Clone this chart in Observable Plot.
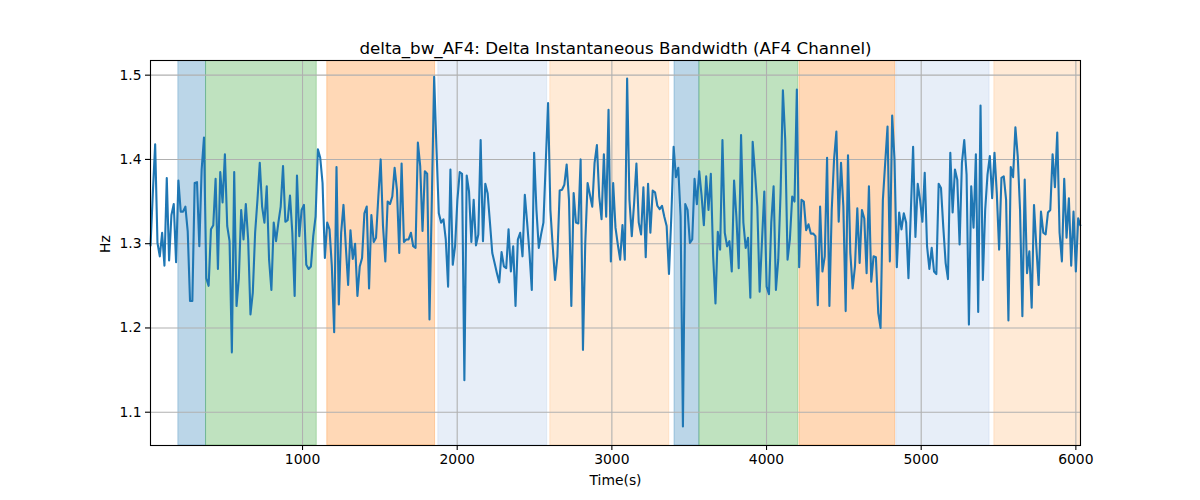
<!DOCTYPE html>
<html>
<head>
<meta charset="utf-8">
<script src="https://cdn.jsdelivr.net/npm/d3@7"></script>
<script src="https://cdn.jsdelivr.net/npm/@observablehq/plot@0.6"></script>
<style>
  html, body { margin: 0; padding: 0; background: white; }
  #chart { width: 1200px; height: 500px; }
</style>
</head>
<body>
<div id="chart"></div>
<script>
const chartTitle = "delta_bw_AF4: Delta Instantaneous Bandwidth (AF4 Channel)";
const xLabel = "Time(s)";
const yLabel = "Hz";

const xTicks = [1000, 2000, 3000, 4000, 5000, 6000];
const yTicks = [1.1, 1.2, 1.3, 1.4, 1.5];

// sampling of the series (seconds)
const timeStart = 17;
const timeEnd = 6030;

const bandwidth = [
  1.297, 1.360, 1.418, 1.301, 1.285, 1.313, 1.274, 1.378, 1.280, 1.334, 1.347,
  1.278, 1.375, 1.338, 1.338, 1.344, 1.315, 1.232, 1.232, 1.372, 1.373,
  1.297, 1.388, 1.426, 1.259, 1.250, 1.317, 1.322, 1.377, 1.270, 1.385,
  1.349, 1.406, 1.321, 1.303, 1.171, 1.385, 1.226, 1.259, 1.340, 1.305,
  1.347, 1.305, 1.216, 1.242, 1.313, 1.352, 1.396, 1.344, 1.325,
  1.368, 1.281, 1.245, 1.325, 1.303, 1.325, 1.344, 1.392, 1.326, 1.328,
  1.357, 1.313, 1.238, 1.381, 1.309, 1.340, 1.346, 1.275, 1.270, 1.273,
  1.309, 1.332, 1.412, 1.402, 1.372, 1.283, 1.325, 1.317, 1.273, 1.195,
  1.391, 1.228, 1.313, 1.346, 1.297, 1.251, 1.316, 1.282, 1.300, 1.238,
  1.273, 1.283, 1.336, 1.344, 1.247, 1.334, 1.302, 1.307, 1.356, 1.400,
  1.321, 1.279, 1.350, 1.347, 1.356, 1.390, 1.364, 1.289, 1.395, 1.302,
  1.305, 1.305, 1.313, 1.297, 1.295, 1.420, 1.392, 1.315, 1.386, 1.383,
  1.210, 1.352, 1.498, 1.413, 1.336, 1.325, 1.329, 1.305, 1.249, 1.388,
  1.275, 1.297, 1.352, 1.385, 1.383, 1.138, 1.381, 1.362, 1.302, 1.352,
  1.298, 1.311, 1.423, 1.303, 1.371, 1.360, 1.325, 1.289, 1.277, 1.265,
  1.254, 1.290, 1.273, 1.271, 1.317, 1.267, 1.297, 1.226, 1.305, 1.313,
  1.285, 1.358, 1.325, 1.289, 1.245, 1.408, 1.340, 1.295, 1.311, 1.325,
  1.396, 1.467, 1.340, 1.297, 1.257, 1.285, 1.363, 1.364, 1.370, 1.394,
  1.352, 1.226, 1.360, 1.325, 1.324, 1.400, 1.174, 1.301, 1.372, 1.358,
  1.344, 1.396, 1.417, 1.356, 1.329, 1.406, 1.332, 1.459, 1.279, 1.372,
  1.319, 1.299, 1.281, 1.322, 1.281, 1.496, 1.352, 1.309, 1.348, 1.395,
  1.325, 1.311, 1.367, 1.284, 1.371, 1.313, 1.363, 1.361, 1.345, 1.341,
  1.345, 1.332, 1.321, 1.264, 1.332, 1.415, 1.379, 1.390, 1.332, 1.083,
  1.347, 1.340, 1.301, 1.305, 1.377, 1.347, 1.386, 1.358, 1.322, 1.380,
  1.340, 1.383, 1.285, 1.229, 1.314, 1.293, 1.423, 1.313, 1.297, 1.303,
  1.267, 1.375, 1.332, 1.271, 1.429, 1.325, 1.295, 1.307, 1.236, 1.421,
  1.384, 1.344, 1.243, 1.303, 1.362, 1.249, 1.240, 1.325, 1.368, 1.245,
  1.281, 1.360, 1.482, 1.423, 1.281, 1.305, 1.356, 1.350, 1.483, 1.272,
  1.352, 1.350, 1.316, 1.323, 1.312, 1.312, 1.309, 1.227, 1.344, 1.267,
  1.285, 1.402, 1.226, 1.340, 1.400, 1.433, 1.326, 1.396, 1.344, 1.220,
  1.405, 1.289, 1.247, 1.273, 1.342, 1.277, 1.340, 1.330, 1.265, 1.368,
  1.255, 1.285, 1.284, 1.218, 1.200, 1.352, 1.396, 1.439, 1.279, 1.452,
  1.400, 1.272, 1.337, 1.317, 1.336, 1.325, 1.259, 1.336, 1.415, 1.308,
  1.371, 1.352, 1.326, 1.384, 1.297, 1.270, 1.295, 1.267, 1.264, 1.371,
  1.366, 1.319, 1.277, 1.258, 1.408, 1.337, 1.388, 1.376, 1.299, 1.396,
  1.423, 1.382, 1.204, 1.368, 1.319, 1.406, 1.219, 1.464, 1.257, 1.340,
  1.382, 1.404, 1.354, 1.408, 1.360, 1.293, 1.378, 1.380, 1.352, 1.209,
  1.391, 1.379, 1.438, 1.404, 1.340, 1.214, 1.376, 1.265, 1.291, 1.224,
  1.346, 1.297, 1.251, 1.338, 1.313, 1.311, 1.337, 1.340, 1.406, 1.367,
  1.432, 1.313, 1.279, 1.377, 1.307, 1.354, 1.274, 1.338, 1.267, 1.330,
  1.321
];

// shaded phases
const spanStarts = [197, 376, 1160, 1878, 2602, 3405, 3566, 4213, 4839, 5473];
const spanEnds   = [376, 1092, 1857, 2582, 3371, 3566, 4205, 4832, 5442, 6030];
const spanColors = ["#1f77b4", "#2ca02c", "#ff7f0e", "#aec7e8", "#ffbb78",
                    "#1f77b4", "#2ca02c", "#ff7f0e", "#aec7e8", "#ffbb78"];

const n = bandwidth.length;
const series = bandwidth.map((v, i) => ({
  t: timeStart + i * (timeEnd - timeStart) / (n - 1),
  v
}));
const spans = spanStarts.map((s, i) => ({ x1: s, x2: spanEnds[i], c: spanColors[i] }));

const font = "DejaVu Sans, Liberation Sans, sans-serif";

const chart = Plot.plot({
  width: 1200,
  height: 500,
  marginLeft: 150,
  marginRight: 120,
  marginTop: 60,
  marginBottom: 55,
  style: { fontFamily: font, fontSize: "13.9px", background: "white", color: "black", overflow: "visible" },
  x: { domain: [timeStart, timeEnd] },
  y: { domain: [1.0605, 1.5174] },
  marks: [
    Plot.rect(spans, { x1: "x1", x2: "x2", fill: "c", fillOpacity: 0.3, stroke: "c", strokeOpacity: 0.3, strokeWidth: 1, clip: true }),
    Plot.gridX(xTicks, { stroke: "#b0b0b0", strokeOpacity: 1, strokeWidth: 1.1 }),
    Plot.gridY(yTicks, { stroke: "#b0b0b0", strokeOpacity: 1, strokeWidth: 1.1 }),
    Plot.line(series, { x: "t", y: "v", stroke: "#1f77b4", strokeWidth: 2.1, strokeLinejoin: "round", strokeLinecap: "butt" }),
    Plot.frame({ stroke: "black", strokeWidth: 1.1 }),
    Plot.axisX(xTicks, { tickSize: 5, tickPadding: 4, tickFormat: d3.format("d"), label: null, fontSize: 13.9, strokeWidth: 1.1 }),
    Plot.axisY(yTicks, { tickSize: 5, tickPadding: 4, tickFormat: d3.format(".1f"), label: null, fontSize: 13.9, strokeWidth: 1.1 }),
    Plot.text([chartTitle], { frameAnchor: "top", dy: -18, fontSize: 16.7, fill: "black" }),
    Plot.text([xLabel], { frameAnchor: "bottom", dy: 39, fontSize: 13.9, fill: "black" }),
    Plot.text([yLabel], { frameAnchor: "left", dx: -45, rotate: -90, fontSize: 13.9, fill: "black" })
  ]
});

document.getElementById("chart").appendChild(chart);
</script>
</body>
</html>
